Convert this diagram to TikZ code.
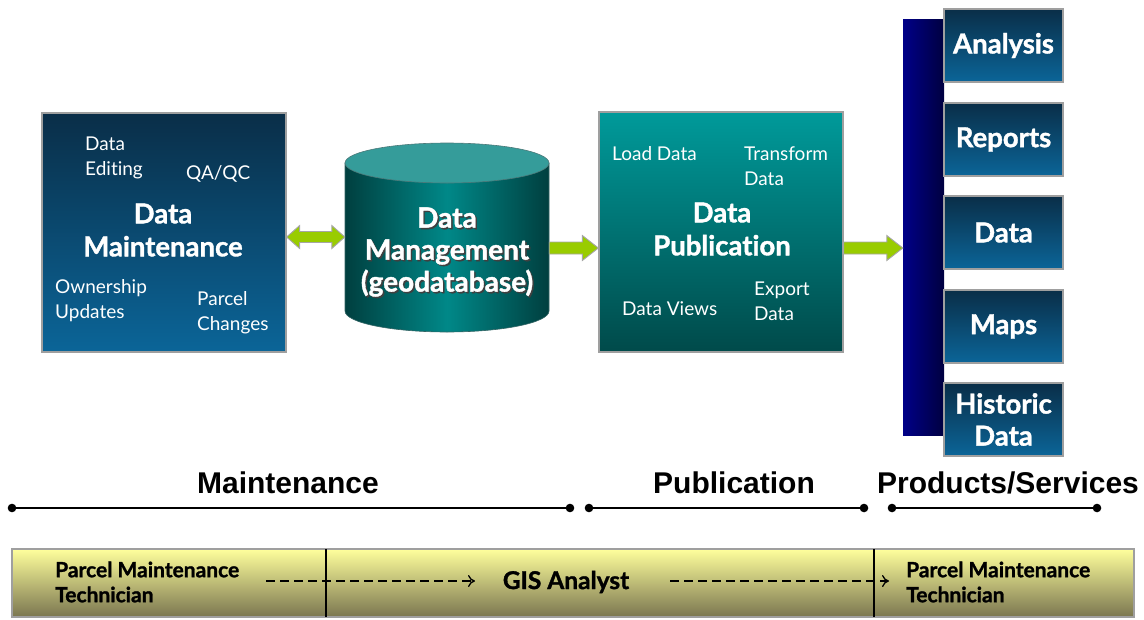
\documentclass[tikz,border=0pt]{standalone}
\usepackage{fontspec}
\setmainfont{Lato}[Ligatures={NoCommon}, BoldFeatures={FakeBold=1.3}]
\newfontfamily\arialfont{Liberation Sans}
\usetikzlibrary{arrows.meta,calc}

\definecolor{navyT}{HTML}{0A2E48}
\definecolor{navyB}{HTML}{0B6598}
\definecolor{tealT}{HTML}{009A9A}
\definecolor{tealB}{HTML}{004A4A}
\definecolor{cylEdge}{HTML}{003F3F}
\definecolor{cylMid}{HTML}{008888}
\definecolor{cylTop}{HTML}{359C9A}
\definecolor{barL}{HTML}{000088}
\definecolor{barR}{HTML}{000040}
\definecolor{fatGreen}{HTML}{99CC00}
\definecolor{ylwT}{HTML}{FFFF9C}
\definecolor{ylwM}{HTML}{E2E28A}
\definecolor{ylwB}{HTML}{7A7650}

\tikzset{
  frame/.style={draw=gray!75, line width=1.3pt, inner sep=0pt},
  navybox/.style={frame, top color=navyT, bottom color=navyB},
  tealbox/.style={frame, top color=tealT, bottom color=tealB},
  smalltxt/.style={text=white, font=\fontsize{19}{25}\selectfont, align=left, anchor=west, inner sep=0pt},
  titletxt/.style={text=white, font=\bfseries\fontsize{27.5}{33}\selectfont, align=center, inner sep=0pt},
  prodbox/.style={navybox, minimum width=119pt, minimum height=73pt, text=white,
                  font=\bfseries\fontsize{27.5}{32}\selectfont, align=center},
  fatstyle/.style={draw=gray!70, fill=fatGreen, line width=0.9pt, line join=miter},
  phase/.style={font=\arialfont\bfseries\fontsize{30}{34}\selectfont, inner sep=0pt},
  tline/.style={line width=2.6pt},
  role/.style={font=\bfseries\fontsize{21}{25}\selectfont, align=left, anchor=west, inner sep=0pt},
  handoff/.style={dashed, dash pattern=on 9pt off 5pt, line width=1.3pt, -{To[length=7pt,width=12pt]}}
}

% thick outlined arrow pointing right, from #1 to #2 (same height)
\newcommand\fatarrow[2]{%
  \path[fatstyle] let \p1=(#1), \p2=(#2) in
    (\x1,\y1+6pt) -- (\x2-16pt,\y1+6pt) -- (\x2-16pt,\y1+12.5pt) -- (\x2,\y1)
    -- (\x2-16pt,\y1-12.5pt) -- (\x2-16pt,\y1-6pt) -- (\x1,\y1-6pt) -- cycle;}
% thick outlined arrow with heads at both ends
\newcommand\fatdouble[2]{%
  \path[fatstyle] let \p1=(#1), \p2=(#2) in
    (\x1,\y1) -- (\x1+13pt,\y1+11.5pt) -- (\x1+13pt,\y1+5.5pt) -- (\x2-13pt,\y1+5.5pt)
    -- (\x2-13pt,\y1+11.5pt) -- (\x2,\y1) -- (\x2-13pt,\y1-11.5pt) -- (\x2-13pt,\y1-5.5pt)
    -- (\x1+13pt,\y1-5.5pt) -- (\x1+13pt,\y1-11.5pt) -- cycle;}

\begin{document}
\begin{tikzpicture}[x=1pt,y=-1pt]
\useasboundingbox (0,0) rectangle (1144,619);

% ---------- Data Maintenance ----------
\node[navybox, minimum width=244pt, minimum height=239pt] (dm) at (164,232.5) {};
\node[smalltxt] (dmedit) at (85,158) {Data\\Editing};
\node[smalltxt] (dmqa) at (186,174) {QA/QC};
\node[titletxt] (dmtitle) at (163,230) {Data\\Maintenance};
\node[smalltxt] (dmown) at (55,301) {Ownership\\Updates};
\node[smalltxt] (dmpar) at (197,313) {Parcel\\Changes};

% ---------- Data Management cylinder ----------
\shade[left color=cylEdge, right color=cylEdge, middle color=cylMid, draw=cylEdge!80, line width=0.6pt]
  (345,163) -- (345,311) arc[start angle=180, end angle=360, x radius=102pt, y radius=21pt]
  -- (549,163) -- cycle;
\filldraw[fill=cylTop, draw=cylEdge!70, line width=0.6pt] (447,163) ellipse [x radius=102pt, y radius=20pt];
\node[minimum width=204pt, minimum height=189pt, inner sep=0pt] (cyl) at (447,237.5) {};
\node[titletxt, text=black!75, font=\bfseries\fontsize{28}{32}\selectfont] (cylsh) at (448.5,253.5) {Data\\Management\\(geodatabase)};
\node[titletxt, font=\bfseries\fontsize{28}{32}\selectfont] (cyltxt) at (447,252) {Data\\Management\\(geodatabase)};

% ---------- Data Publication ----------
\node[tealbox, minimum width=244pt, minimum height=240pt] (pub) at (721,232) {};
\node[smalltxt] (pubload) at (612,154) {Load Data};
\node[smalltxt] (pubtrans) at (744,166) {Transform\\Data};
\node[titletxt] (pubtitle) at (722,229) {Data\\Publication};
\node[smalltxt] (pubviews) at (622,309) {Data Views};
\node[smalltxt] (pubexp) at (754,301) {Export\\Data};

% ---------- Products / Services ----------
\shade[left color=barL, right color=barR] (903,19) rectangle (944,435);
\node[minimum width=41pt, minimum height=416pt, inner sep=0pt] (bar) at (923.5,227) {};
\node[prodbox] (analysis) at (1003.5,45.5) {Analysis};
\node[prodbox] (reports) at (1003.5,139.5) {Reports};
\node[prodbox] (data) at (1003.5,232.5) {Data};
\node[prodbox] (maps) at (1003.5,326.5) {Maps};
\node[prodbox] (hist) at (1003.5,419.5) {Historic\\Data};

% ---------- flow arrows ----------
\coordinate (a1) at ([yshift=-4.5pt]dm.east);
\coordinate (a2) at ([yshift=-0.5pt]cyl.west);
\coordinate (b1) at ([yshift=-10.5pt]cyl.east);
\coordinate (b2) at ([yshift=-16pt]pub.west);
\coordinate (c1) at ([yshift=-16pt]pub.east);
\coordinate (c2) at ([yshift=-21pt]bar.west);
\fatdouble{a1}{a2}
\fatarrow{b1}{b2}
\fatarrow{c1}{c2}

% ---------- phases ----------
\node[phase] (phm) at (288,483) {Maintenance};
\node[phase] (php) at (734,483) {Publication};
\node[phase] (phs) at (1008,483) {Products/Services};
\coordinate (m1) at (12,508);  \coordinate (m2) at (570,508);
\coordinate (p1) at (589,508); \coordinate (p2) at (864,508);
\coordinate (s1) at (892,508); \coordinate (s2) at (1097,508);
\draw[tline] (m1) -- (m2);
\draw[tline] (p1) -- (p2);
\draw[tline] (s1) -- (s2);
\foreach \c in {m1,m2,p1,p2,s1,s2} \fill (\c) circle (4.3pt);

% ---------- roles ----------
\shade[top color=ylwT, middle color=ylwM, bottom color=ylwB] (12,549) rectangle (1134,617);
\node[frame, minimum width=1122pt, minimum height=68pt] (roles) at (573,583) {};
\coordinate (v1t) at (326,549); \coordinate (v1b) at (326,617);
\coordinate (v2t) at (874,549); \coordinate (v2b) at (874,617);
\draw[line width=1.5pt] (v1t) -- (v1b);
\draw[line width=1.5pt] (v2t) -- (v2b);
\node[role] (tech1) at (55,582) {Parcel Maintenance\\Technician};
\node[font=\bfseries\fontsize{24.5}{28}\selectfont, inner sep=0pt] (gis) at (566,582) {GIS Analyst};
\node[role] (tech2) at (906,582) {Parcel Maintenance\\Technician};
\coordinate (h1s) at (266,581); \coordinate (h1e) at (475,581);
\coordinate (h2s) at (670,581); \coordinate (h2e) at (889,581);
\draw[handoff] (h1s) -- (h1e);
\draw[handoff] (h2s) -- (h2e);
\end{tikzpicture}
\end{document}
